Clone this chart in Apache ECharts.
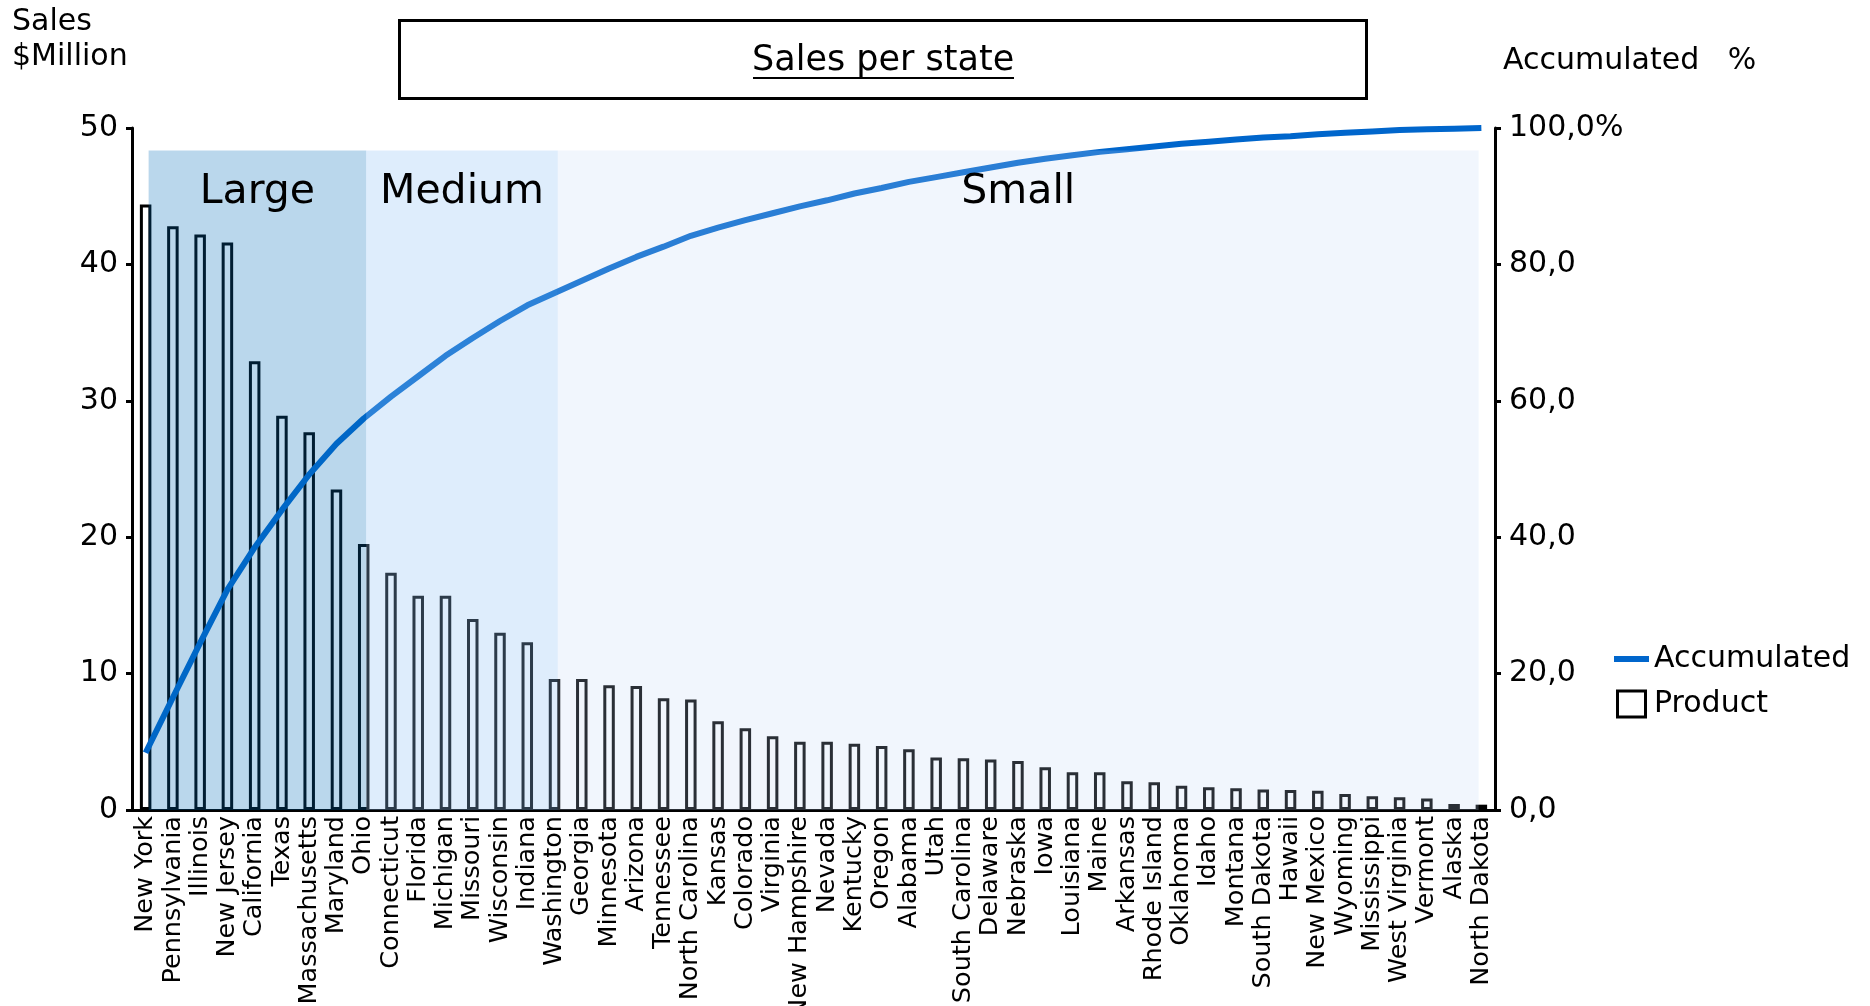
<!DOCTYPE html>
<html>
<head>
<meta charset="utf-8">
<script src="https://cdn.jsdelivr.net/npm/echarts@6/dist/echarts.min.js"></script>
<style>
html,body{margin:0;padding:0;background:#fff;}
#chart{width:1870px;height:1006px;}
</style>
</head>
<body>
<div id="chart"></div>
<script>
const states = ['New York','Pennsylvania','Illinois','New Jersey','California','Texas','Massachusetts','Maryland','Ohio','Connecticut','Florida','Michigan','Missouri','Wisconsin','Indiana','Washington','Georgia','Minnesota','Arizona','Tennessee','North Carolina','Kansas','Colorado','Virginia','New Hampshire','Nevada','Kentucky','Oregon','Alabama','Utah','South Carolina','Delaware','Nebraska','Iowa','Louisiana','Maine','Arkansas','Rhode Island','Oklahoma','Idaho','Montana','South Dakota','Hawaii','New Mexico','Wyoming','Mississippi','West Virginia','Vermont','Alaska','North Dakota'];

const sales = [44.4,42.8,42.2,41.6,32.9,28.9,27.7,23.5,19.5,17.4,15.7,15.7,14.0,13.0,12.3,9.6,9.6,9.15,9.1,8.2,8.1,6.5,6.0,5.4,5.0,5.0,4.85,4.7,4.45,3.85,3.8,3.7,3.6,3.13,2.76,2.76,2.1,2.03,1.78,1.66,1.59,1.51,1.46,1.42,1.17,1.0,0.93,0.85,0.44,0.39];

const accumulated = [8.4,16.5,24.5,32.3,38.5,44.0,49.2,53.7,57.4,60.6,63.6,66.6,69.2,71.7,74.0,75.8,77.6,79.4,81.1,82.6,84.2,85.4,86.5,87.5,88.5,89.4,90.4,91.2,92.1,92.8,93.5,94.2,94.9,95.5,96.0,96.5,96.9,97.3,97.7,98.0,98.3,98.6,98.8,99.1,99.3,99.5,99.7,99.8,99.9,100.0];

const leftTickLabels = ['0','10','20','30','40','50'];
const rightTickLabels = ['0,0','20,0','40,0','60,0','80,0','100,0%'];

const segmentNames = ['Large','Medium','Small'];
const segmentStart = [0.11, 8.09, 15.12];
const segmentEnd = [8.09, 15.12, 48.9];
const segmentTop = 48.35;

const FONT = 'DejaVu Sans';
const bandColors = ['rgba(0,107,185,0.27)','rgba(145,195,245,0.30)','rgba(191,214,245,0.22)'];

const chart = echarts.init(document.getElementById('chart'), null, {renderer:'canvas'});

const option = {
  animation: false,
  backgroundColor: '#ffffff',
  textStyle: {fontFamily: FONT, color: '#000'},
  title: {
    text: 'Sales per state',
    left: 399, top: 20,
    padding: [23, 353, 21, 353],
    borderColor: '#000', borderWidth: 3,
    textStyle: {fontFamily: FONT, fontSize: 35, fontWeight: 'normal', color: '#000'}
  },
  graphic: [{
    type: 'line', z: 100,
    shape: {x1: 753, y1: 78, x2: 1014, y2: 78},
    style: {stroke: '#000', lineWidth: 2}
  }],
  legend: {
    orient: 'vertical', left: 1614, top: 644, padding: 0,
    itemWidth: 35, itemHeight: 26, itemGap: 15,
    textStyle: {fontFamily: FONT, fontSize: 30, color: '#000'},
    data: [
      {name: 'Accumulated', icon: 'path://M0 0H35V6H0Z', itemStyle: {color: '#0066CC', borderWidth: 0}},
      {name: 'Product', icon: 'path://M0 0H28V26H0Z', itemStyle: {color: 'transparent', borderColor: '#000', borderWidth: 3}}
    ]
  },
  grid: {left: 132, right: 375, top: 128, bottom: 196, containLabel: false, outerBoundsMode: 'none'},
  xAxis: [{
    type: 'category', data: states,
    axisLine: {onZero: false, lineStyle: {color: '#000', width: 3}},
    axisTick: {show: false},
    axisLabel: {interval: 0, rotate: 90, margin: 6, fontFamily: FONT, fontSize: 25.5, color: '#000'},
    splitLine: {show: false}
  }, {
    type: 'value', min: -0.5, max: 49.5, show: false
  }],
  yAxis: [{
    type: 'value', min: 0, max: 50, interval: 10, position: 'left',
    name: '{a|Sales}\n{a|$Million}',
    nameLocation: 'end', nameGap: 53,
    nameTextStyle: {align: 'right', rich: {a: {width: 120, align: 'left', fontFamily: FONT, fontSize: 30, lineHeight: 35, color: '#000'}}},
    axisLine: {show: true, onZero: false, lineStyle: {color: '#000', width: 3}},
    axisTick: {show: true, length: 6, lineStyle: {color: '#000', width: 3}},
    axisLabel: {margin: 14, fontFamily: FONT, fontSize: 30, color: '#000',
      formatter: (v) => leftTickLabels[Math.round(v / 10)]},
    splitLine: {show: false}
  }, {
    type: 'value', min: 0, max: 100, interval: 20, position: 'right',
    name: 'Accumulated   %',
    nameLocation: 'end', nameGap: 52,
    nameTextStyle: {align: 'left', padding: [0, 0, 0, 8], fontFamily: FONT, fontSize: 30, color: '#000'},
    axisLine: {show: true, onZero: false, lineStyle: {color: '#000', width: 3}},
    axisTick: {show: true, length: 6, lineStyle: {color: '#000', width: 3}},
    axisLabel: {margin: 14, fontFamily: FONT, fontSize: 30, color: '#000',
      formatter: (v) => rightTickLabels[Math.round(v / 20)]},
    splitLine: {show: false}
  }],
  series: [{
    name: 'Product', type: 'bar', data: sales,
    xAxisIndex: 0, yAxisIndex: 0,
    barWidth: 11.5, z: 2,
    itemStyle: {color: 'transparent', borderColor: '#000', borderWidth: 3}
  }, {
    name: 'Accumulated', type: 'line', data: accumulated,
    xAxisIndex: 0, yAxisIndex: 1,
    symbol: 'none', smooth: false, z: 3,
    lineStyle: {color: '#0066CC', width: 6},
    itemStyle: {color: '#0066CC'}
  }, {
    name: 'bands', type: 'line', data: [],
    xAxisIndex: 1, yAxisIndex: 0, silent: true,
    markArea: {
      z: 10, silent: true,
      label: {position: 'insideTop', distance: 21, fontFamily: FONT, fontSize: 41, color: '#000'},
      data: segmentNames.map((n, i) => [
        {name: n, xAxis: segmentStart[i], yAxis: segmentTop, itemStyle: {color: bandColors[i]}},
        {xAxis: segmentEnd[i], yAxis: 0}
      ])
    }
  }]
};
chart.setOption(option);
</script>
</body>
</html>
